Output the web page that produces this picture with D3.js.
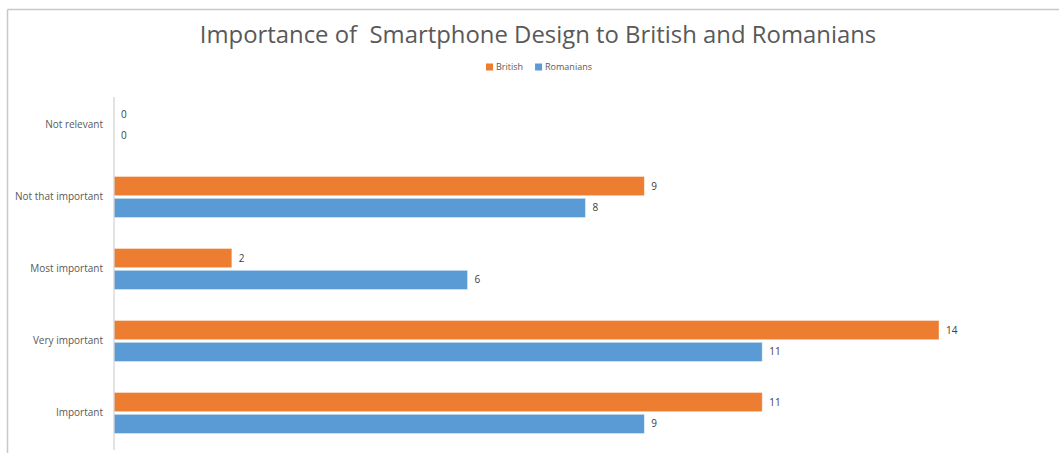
<!DOCTYPE html>
<html>
<head>
<meta charset="utf-8">
<script src="https://cdnjs.cloudflare.com/ajax/libs/d3/7.8.5/d3.min.js"></script>
<style>
  html, body { margin: 0; padding: 0; background: #fff; }
  svg { display: block; font-family: "Open Sans", "Liberation Sans", sans-serif; }
</style>
</head>
<body>
<svg id="chart" width="1059" height="453"></svg>
<script>
// Survey responses: importance of smartphone design
const categories = ["Not relevant", "Not that important", "Most important", "Very important", "Important"];
const seriesNames = ["British", "Romanians"];
const british = [0, 9, 2, 14, 11];
const romanians = [0, 8, 6, 11, 9];
const seriesColors = ["#ED7D31", "#5B9BD5"];
const titleText = "Importance of  Smartphone Design to British and Romanians";

const svg = d3.select("#chart");
const W = 1059, H = 453;

// chart frame
svg.append("line").attr("x1", 7.5).attr("x2", W).attr("y1", 9.5).attr("y2", 9.5)
  .attr("stroke", "#c8c8c8").attr("stroke-width", 1.5);
svg.append("line").attr("x1", 7.5).attr("x2", 7.5).attr("y1", 9.5).attr("y2", H)
  .attr("stroke", "#c8c8c8").attr("stroke-width", 1.5);

const plot = { left: 114, right: 939, top: 89, bottom: 449 };

const x = d3.scaleLinear().domain([0, 14]).range([plot.left, plot.right]);
const y = d3.scaleBand().domain(categories).range([plot.top, plot.bottom]).paddingInner(0.43).paddingOuter(0.215);
const sub = d3.scaleBand().domain(seriesNames).range([0, y.bandwidth()]).paddingInner(0.12);

const rows = categories.map((c, i) => ({ cat: c, values: [british[i], romanians[i]] }));

// bars
const g = svg.append("g");
rows.forEach(r => {
  r.values.forEach((v, j) => {
    const yy = y(r.cat) + sub(seriesNames[j]);
    if (v > 0) {
      g.append("rect")
        .attr("x", x(0)).attr("y", yy)
        .attr("width", x(v) - x(0)).attr("height", sub.bandwidth())
        .attr("fill", seriesColors[j])
        .attr("stroke", "#fff").attr("stroke-opacity", 0.5).attr("stroke-width", 0.8);
    }
    g.append("text")
      .attr("x", x(v) + 7).attr("y", yy + sub.bandwidth() / 2)
      .attr("dy", "0.35em")
      .attr("font-size", 10).attr("fill", "#404040")
      .text(v);
  });
});

// vertical category axis
const axis = d3.axisLeft(y).tickSize(0).tickPadding(11);
const ag = svg.append("g").attr("transform", `translate(${plot.left},0)`).call(axis);
ag.select(".domain").remove();
ag.selectAll("text").attr("font-size", 10).attr("fill", "#595959")
  .attr("font-family", "'Open Sans', 'Liberation Sans', sans-serif");
svg.append("line").attr("x1", plot.left).attr("x2", plot.left).attr("y1", 97).attr("y2", 450)
  .attr("stroke", "#d0d0d0").attr("stroke-width", 1.2);

// title
const title = svg.append("text")
  .attr("x", 538).attr("y", 43).attr("text-anchor", "middle")
  .attr("font-size", 22).attr("fill", "#595959")
  .attr("font-family", "'Open Sans', sans-serif")
  .attr("xml:space", "preserve")
  .style("white-space", "pre")
  .text(titleText);
const tw = title.node().getComputedTextLength();
title.attr("font-size", 22 * 677 / tw);

// legend
const legend = svg.append("g").attr("transform", "translate(486,67)");
let lx = 0;
seriesNames.forEach((n, i) => {
  const item = legend.append("g").attr("transform", `translate(${lx},0)`);
  item.append("rect").attr("x", 0).attr("y", -3.5).attr("width", 7).attr("height", 7).attr("fill", seriesColors[i]);
  const t = item.append("text").attr("x", 10).attr("y", 0).attr("dy", "0.35em")
    .attr("font-size", 9).attr("fill", "#595959").text(n);
  lx += 10 + t.node().getComputedTextLength() + 12;
});
</script>
</body>
</html>
